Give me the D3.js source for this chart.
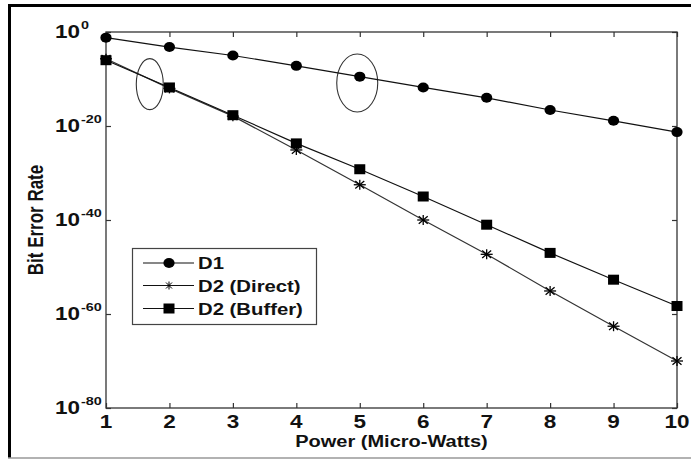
<!DOCTYPE html>
<html>
<head>
<meta charset="utf-8">
<script src="https://cdn.jsdelivr.net/npm/d3@7"></script>
<style>
  html, body { margin: 0; padding: 0; background: #fff; }
  svg { display: block; }
  text { font-family: "Liberation Sans", Arial, sans-serif; font-weight: bold; fill: #111; }
</style>
</head>
<body>
<svg id="chart" width="691" height="459"></svg>
<script>
// ---- data ----
const power = [1, 2, 3, 4, 5, 6, 7, 8, 9, 10];
// log10(Bit Error Rate)
const d1Exp     = [-1.2, -3.2, -5.0, -7.2, -9.5, -11.8, -14.0, -16.6, -18.9, -21.3];
const directExp = [-5.7, -12.0, -17.9, -25.1, -32.5, -40.0, -47.3, -55.1, -62.6, -70.0];
const bufferExp = [-6.0, -11.8, -17.7, -23.7, -29.2, -35.0, -41.0, -47.0, -52.7, -58.3];
const seriesNames = ["D1", "D2 (Direct)", "D2 (Buffer)"];
const xTicks = [1, 2, 3, 4, 5, 6, 7, 8, 9, 10];
const yTickExp = [0, -20, -40, -60, -80];
// annotation ellipses (centre in data units)
const ellipseX = [1.69, 4.96];
const ellipseExp = [-11.1, -10.85];

const svg = d3.select("#chart");
const SX = 1.25; // horizontal stretch of the reference's glyphs

// outer frame
svg.append("line").attr("x1", 9.5).attr("x2", 9.5).attr("y1", 4).attr("y2", 458)
  .attr("stroke", "#000").attr("stroke-width", 3);
svg.append("line").attr("x1", 8).attr("x2", 691).attr("y1", 5.5).attr("y2", 5.5)
  .attr("stroke", "#000").attr("stroke-width", 3);
svg.append("line").attr("x1", 8).attr("x2", 691).attr("y1", 458).attr("y2", 458)
  .attr("stroke", "#999").attr("stroke-width", 1.5);

const L = 106, R = 677, T = 32, B = 408;
const x = d3.scaleLinear().domain([1, 10]).range([L, R]);
const y = d3.scaleLog().domain([1e-80, 1]).range([B, T]);

function txt(g, s, px, py, size, anchor, sx) {
  return g.append("text")
    .attr("transform", `translate(${px},${py}) scale(${sx},1)`)
    .attr("text-anchor", anchor || "start")
    .style("font-size", size + "px")
    .text(s);
}

// axes box
const ax = svg.append("g").attr("stroke", "#333").attr("stroke-width", 1.3).attr("fill", "none");
ax.append("rect").attr("x", L).attr("y", T).attr("width", R - L).attr("height", B - T);

// ticks via d3 axes (inward)
const tk = 5;
svg.append("g").attr("transform", `translate(0,${B})`)
  .call(d3.axisBottom(x).tickValues(xTicks).tickSize(-tk).tickFormat(""));
svg.append("g").attr("transform", `translate(0,${T})`)
  .call(d3.axisTop(x).tickValues(xTicks).tickSize(-tk).tickFormat(""));
svg.append("g").attr("transform", `translate(${L},0)`)
  .call(d3.axisLeft(y).tickValues(yTickExp.map(e => Math.pow(10, e))).tickSize(-tk).tickFormat(""));
svg.append("g").attr("transform", `translate(${R},0)`)
  .call(d3.axisRight(y).tickValues(yTickExp.map(e => Math.pow(10, e))).tickSize(-tk).tickFormat(""));
svg.selectAll(".domain").remove();
svg.selectAll(".tick line").attr("stroke", "#333").attr("stroke-width", 1.2);

// tick labels
const lab = svg.append("g");
xTicks.forEach(v => txt(lab, String(v), x(v), 428, 18, "middle", SX));
yTickExp.forEach(e => {
  const py = y(Math.pow(10, e));
  txt(lab, "10", 80, py + 6, 18, "end", SX);
  txt(lab, String(e), 81, py - 3, 11.5, "start", SX);
});

// axis titles
txt(lab, "Power (Micro-Watts)", (L + R) / 2, 447, 16, "middle", SX);
lab.append("text")
  .attr("transform", `translate(43,${(T + B) / 2}) rotate(-90) scale(1,${SX})`)
  .attr("text-anchor", "middle").style("font-size", "17px").text("Bit Error Rate");

// ellipses
svg.append("g").selectAll("ellipse").data(ellipseX).join("ellipse")
  .attr("cx", (d) => x(d))
  .attr("cy", (d, i) => y(Math.pow(10, ellipseExp[i])))
  .attr("rx", (d, i) => i === 0 ? 13.5 : 20.5)
  .attr("ry", (d, i) => i === 0 ? 25.5 : 29)
  .attr("fill", "none").attr("stroke", "#333").attr("stroke-width", 1.1);

// series
const series = [
  { name: seriesNames[0], exp: d1Exp, marker: "circle", color: "#111" },
  { name: seriesNames[1], exp: directExp, marker: "star", color: "#333" },
  { name: seriesNames[2], exp: bufferExp, marker: "square", color: "#111" }
];
const line = d3.line().x(d => x(d[0])).y(d => y(Math.pow(10, d[1])));

function drawMarker(g, type, cx, cy) {
  if (type === "circle") {
    g.append("ellipse").attr("cx", cx).attr("cy", cy).attr("rx", 5.6).attr("ry", 5)
      .attr("fill", "#000");
  } else if (type === "square") {
    g.append("rect").attr("x", cx - 5.5).attr("y", cy - 5).attr("width", 11).attr("height", 10)
      .attr("fill", "#000");
  } else {
    const s = g.append("g").attr("stroke", "#000").attr("stroke-width", 1.3);
    s.append("line").attr("x1", cx - 6).attr("x2", cx + 6).attr("y1", cy).attr("y2", cy);
    s.append("line").attr("x1", cx).attr("x2", cx).attr("y1", cy - 5).attr("y2", cy + 5);
    s.append("line").attr("x1", cx - 4.5).attr("x2", cx + 4.5).attr("y1", cy - 3.8).attr("y2", cy + 3.8);
    s.append("line").attr("x1", cx - 4.5).attr("x2", cx + 4.5).attr("y1", cy + 3.8).attr("y2", cy - 3.8);
  }
}

const plotG = svg.append("g");
series.forEach(s => {
  const pts = power.map((p, i) => [p, s.exp[i]]);
  plotG.append("path").attr("d", line(pts)).attr("fill", "none")
    .attr("stroke", s.color).attr("stroke-width", 1.2);
});
// draw markers after lines; star first so squares cover at x=1
[1, 0, 2].forEach(k => {
  const s = series[k];
  power.forEach((p, i) => drawMarker(plotG, s.marker, x(p), y(Math.pow(10, s.exp[i]))));
});

// legend
const lg = svg.append("g");
lg.append("rect").attr("x", 132.5).attr("y", 248.5).attr("width", 184).attr("height", 76)
  .attr("fill", "#fff").attr("stroke", "#444").attr("stroke-width", 1.2);
const legY = [263, 285.5, 308.5];
series.forEach((s, i) => {
  lg.append("line").attr("x1", 143).attr("x2", 194).attr("y1", legY[i]).attr("y2", legY[i])
    .attr("stroke", "#111").attr("stroke-width", 1.2);
  if (s.marker === "star") {
    const g = lg.append("g").attr("stroke", "#000").attr("stroke-width", 1);
    g.append("line").attr("x1", 169).attr("x2", 169).attr("y1", legY[i] - 4).attr("y2", legY[i] + 4);
    g.append("line").attr("x1", 166).attr("x2", 172).attr("y1", legY[i] - 3).attr("y2", legY[i] + 3);
    g.append("line").attr("x1", 166).attr("x2", 172).attr("y1", legY[i] + 3).attr("y2", legY[i] - 3);
  } else {
    drawMarker(lg, s.marker, 169, legY[i]);
  }
  txt(lg, s.name, 198, legY[i] + 6, 16, "start", 1.27);
});
</script>
</body>
</html>
